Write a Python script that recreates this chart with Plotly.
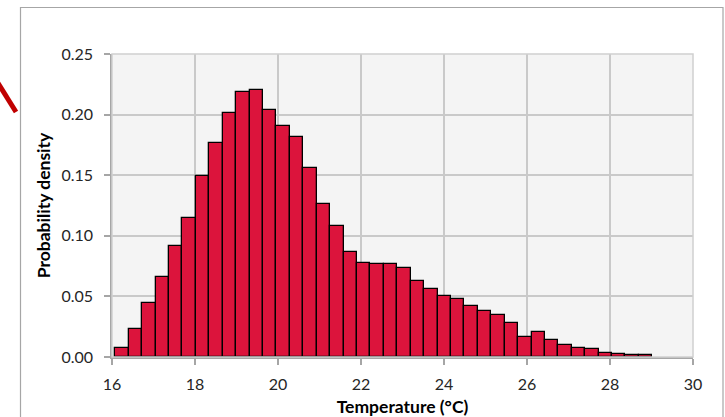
import numpy as np
import plotly.graph_objects as go

# Histogram data (bin grid + densities)
BIN_START = 16.08
BIN_WIDTH = 0.3235
density = [
    0.0074, 0.0231, 0.0446, 0.0661, 0.0919, 0.1148, 0.1495, 0.1764, 0.2012, 0.2189,
    0.2205, 0.2034, 0.1910, 0.1819, 0.1561, 0.1264, 0.1082, 0.0867, 0.0776, 0.0768,
    0.0768, 0.0735, 0.0628, 0.0562, 0.0506, 0.0481, 0.0424, 0.0380, 0.0344, 0.0279,
    0.0168, 0.0206, 0.0137, 0.0099, 0.0071, 0.0069, 0.0033, 0.0021, 0.0017, 0.0013,
]
x_ticks = [16, 18, 20, 22, 24, 26, 28, 30]
y_ticks = [0.00, 0.05, 0.10, 0.15, 0.20, 0.25]

centers = BIN_START + BIN_WIDTH * (np.arange(len(density)) + 0.5)

W, H = 725, 417
L, R, T, B = 112, 32, 54, 60
pw, ph = W - L - R, H - T - B


def px(x):
    return (x - L) / pw


def py(y):
    return (H - B - y) / ph


FONT = "Lato, 'Open Sans', sans-serif"

fig = go.Figure()
fig.add_trace(go.Bar(
    x=centers, y=density, width=BIN_WIDTH,
    marker=dict(color="#DC143C", line=dict(color="#000000", width=1.3)),
    hoverinfo="x+y",
))

fig.update_layout(
    width=W, height=H,
    margin=dict(l=L, r=R, t=T, b=B),
    paper_bgcolor="white",
    plot_bgcolor="#f4f4f4",
    showlegend=False,
    bargap=0,
    font=dict(family=FONT, size=16, color="#262626"),
    xaxis=dict(
        range=[16, 30], tickvals=x_ticks, ticktext=[str(v) for v in x_ticks],
        showgrid=True, gridcolor="#c9c9c9", gridwidth=1.5,
        ticks="outside", ticklen=6, tickcolor="#a6a6a6", tickwidth=1.5,
        showline=True, linecolor="#a6a6a6", linewidth=1.5, mirror=False,
        zeroline=False, automargin=False, ticklabelstandoff=6,
        title=dict(text="<b>Temperature (°C)</b>", font=dict(size=17.5, color="#000"), standoff=10),
    ),
    yaxis=dict(
        range=[0, 0.25], tickvals=y_ticks, ticktext=[f"{v:.2f}" for v in y_ticks],
        showgrid=True, gridcolor="#c9c9c9", gridwidth=1.5,
        ticks="outside", ticklen=6, tickcolor="#a6a6a6", tickwidth=1.5,
        showline=True, linecolor="#a6a6a6", linewidth=1.5,
        zeroline=False, automargin=False, ticklabelstandoff=8,
        title=dict(text="<b>Probability density</b>", font=dict(size=17.5, color="#000"), standoff=6),
    ),
    shapes=[
        # plot-area border
        dict(type="rect", xref="paper", yref="paper", x0=0, x1=1, y0=0, y1=1,
             line=dict(color="#d0d0d0", width=1.5)),
        # chart-area frame
        dict(type="rect", xref="paper", yref="paper",
             x0=px(20.5), x1=px(723), y0=py(430), y1=py(7.5),
             line=dict(color="#a6a6a6", width=1.2)),
        # red stroke at top-left
        dict(type="line", xref="paper", yref="paper",
             x0=px(-2), y0=py(83), x1=px(16), y1=py(112),
             line=dict(color="#C00000", width=5)),
    ],
)

fig.write_html(
    "out.html",
    config={"displayModeBar": False},
    post_script="document.body.style.margin='0';document.body.style.overflow='hidden';",
)
